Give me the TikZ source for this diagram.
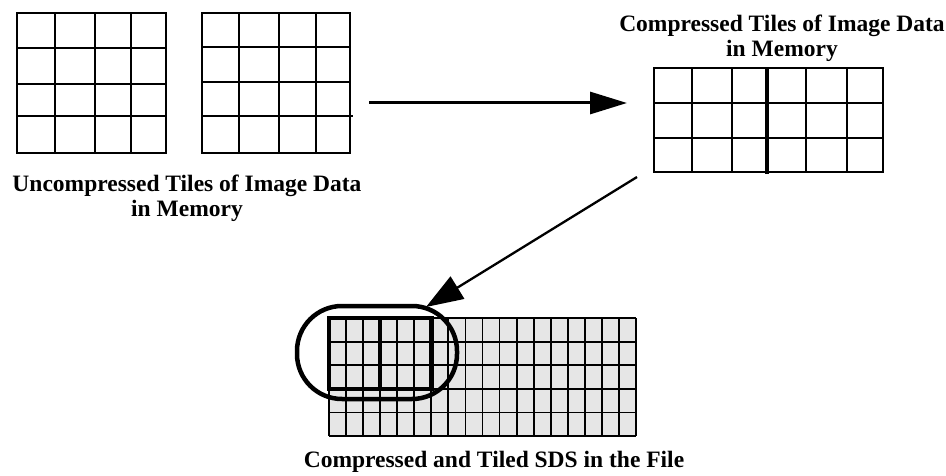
\documentclass[tikz,border=0pt]{standalone}
\usepackage{fontspec}
\setmainfont{Liberation Serif}
\usetikzlibrary{arrows.meta}
\definecolor{cellgray}{HTML}{E6E6E6}
\begin{document}
\begin{tikzpicture}[x=1pt,y=-1pt,
  gridline/.style={line width=2.2pt},
  thinline/.style={line width=1.8pt},
  thickline/.style={line width=4.5pt},
  lbl/.style={font=\bfseries\fontsize{23.5}{25}\selectfont, align=center, inner sep=0pt},
  bigarrow/.style={line width=3pt, -{Triangle[length=37pt,width=22pt]}},
  diagarrow/.style={line width=2.3pt, -{Triangle[length=37pt,width=26pt]}}]
\useasboundingbox (0,0) rectangle (946,476);

% Uncompressed grid 1
\draw[gridline] (17,13) rectangle (166,153);
\foreach \x in {55,95,131} \draw[gridline] (\x,13) -- (\x,153);
\foreach \y in {48,84,116} \draw[gridline] (17,\y) -- (166,\y);

% Uncompressed grid 2
\draw[gridline] (202,13) rectangle (350,153);
\foreach \x in {239,279,316} \draw[gridline] (\x,13) -- (\x,153);
\foreach \y in {47,82} \draw[gridline] (202,\y) -- (350,\y);
\draw[gridline] (202,116) -- (353,116);

% Compressed grid
\draw[gridline] (654,68) rectangle (883,172);
\foreach \x in {692,732,806,847} \draw[gridline] (\x,68) -- (\x,172);
\foreach \y in {103,138} \draw[gridline] (654,\y) -- (883,\y);
\draw[thickline] (767,68) -- (767,174);

% Bottom tiled grid
\fill[cellgray] (329,318) rectangle (636,436);
\foreach \i in {0,...,18} \draw[thinline] ({329+\i*307/18},318) -- ({329+\i*307/18},436);
\foreach \j in {0,...,5} \draw[thinline] (329,{318+\j*23.6}) -- (636,{318+\j*23.6});
\draw[thickline] (329,318) rectangle ({329+6*307/18},{318+3*23.6});
\draw[thickline] ({329+3*307/18},318) -- ({329+3*307/18},{318+3*23.6});

% Selection outline
\draw[thickline, rounded corners=45pt] (297,306) rectangle (457,399);

% Arrows
\coordinate (a1s) at (369,103);
\coordinate (a1e) at (627,103);
\coordinate (a2s) at (637,177);
\coordinate (a2e) at (426,307);
\draw[bigarrow] (a1s) -- (a1e);
\draw[diagarrow] (a2s) -- (a2e);

% Labels
\node[lbl] (t1) at (187,198) {Uncompressed Tiles of Image Data\\in Memory};
\node[lbl] (t2) at (782,38) {Compressed Tiles of Image Data\\in Memory};
\node[lbl] (t3) at (494,462) {Compressed and Tiled SDS in the File};
\end{tikzpicture}
\end{document}
